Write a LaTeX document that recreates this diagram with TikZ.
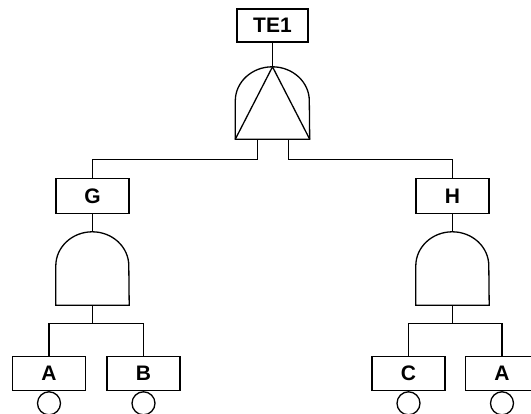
\documentclass[tikz,border=0pt]{standalone}
\usepackage{fontspec}
\setmainfont{Liberation Sans}
\begin{document}
\begin{tikzpicture}[x=1pt,y=-1pt,
  ln/.style={draw=black,line width=1.3pt},
  evbox/.style={ln,rectangle,fill=white,inner sep=0pt,font=\bfseries\fontsize{21}{21}\selectfont},
  gatebox/.style={rectangle,inner sep=0pt,minimum width=73pt,minimum height=73pt},
  basic/.style={ln,circle,inner sep=0pt,minimum size=23pt,anchor=north}]
\useasboundingbox (0,0) rectangle (531,414);
\clip (0,0) rectangle (531,414);
\newcommand{\andgate}[2]{%
  \draw[ln] (#1.south west) -- ([yshift=-#2pt]#1.west |- #1.north) arc[start angle=180,end angle=0,x radius=36.5pt,y radius=#2pt] -- (#1.south east) -- cycle;}
% top event
\node[evbox,minimum width=71pt,minimum height=33pt] (TE) at (272.5,25.5) {TE1};
\node[gatebox,minimum width=74pt,minimum height=72pt] (g0) at (272.5,103) {};
\draw[ln] (g0.south west) -- ([yshift=-34pt]g0.west |- g0.north) arc[start angle=180,end angle=0,x radius=37pt,y radius=34pt] -- (g0.south east) -- cycle;
\draw[ln] (g0.south west) -- (g0.north) -- (g0.south east);
% intermediate events
\node[evbox,minimum width=73pt,minimum height=35pt] (G) at (92.5,196) {G};
\node[evbox,minimum width=73pt,minimum height=35pt] (H) at (452.5,196) {H};
\node[gatebox] (gG) at (92.5,268.5) {};
\node[gatebox] (gH) at (452.5,268.5) {};
\andgate{gG}{34}
\andgate{gH}{34}
% basic events
\node[evbox,minimum width=73pt,minimum height=34pt] (A1) at (49,373.5) {A};
\node[evbox,minimum width=73pt,minimum height=34pt] (B) at (143.5,373.5) {B};
\node[evbox,minimum width=73pt,minimum height=34pt] (C) at (408.5,373.5) {C};
\node[evbox,minimum width=73pt,minimum height=34pt] (A2) at (502,373.5) {A};
\node[basic] (cA1) at (A1.south) {};
\node[basic] (cB) at (B.south) {};
\node[basic] (cC) at (C.south) {};
\node[basic] (cA2) at (A2.south) {};
% connectors
\draw[ln] (TE.south) -- (g0.north);
\draw[ln] ([xshift=-15pt]g0.south) -- ++(0,20) -| (G.north);
\draw[ln] ([xshift=16pt]g0.south) -- ++(0,20) -| (H.north);
\draw[ln] (G.south) -- (gG.north);
\draw[ln] (H.south) -- (gH.north);
\draw[ln] (gG.south) -- ++(0,18) coordinate (jG);
\draw[ln] (jG) -| (A1.north);
\draw[ln] (jG) -| (B.north);
\draw[ln] (gH.south) -- ++(0,18) coordinate (jH);
\draw[ln] (jH) -| (C.north);
\draw[ln] (jH) -| (A2.north);
\end{tikzpicture}
\end{document}
